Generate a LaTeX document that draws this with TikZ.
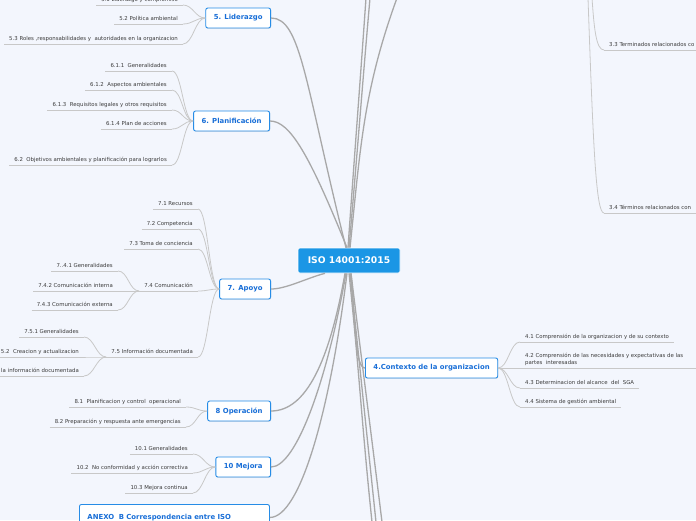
\documentclass[tikz,border=0pt]{standalone}
\usepackage{fontspec}
\newfontfamily\mapfont{DejaVu Sans}
\usetikzlibrary{shadows}
\definecolor{bgcol}{RGB}{243,246,253}
\definecolor{rootblue}{RGB}{27,150,229}
\definecolor{nodeblue}{RGB}{38,140,230}
\definecolor{textblue}{RGB}{24,110,215}
\definecolor{leafgray}{RGB}{60,60,60}
\definecolor{linegray}{RGB}{168,168,168}
\definecolor{thingray}{RGB}{200,200,200}
\newcommand\leaffont{\mapfont\fontsize{5.4}{7}\selectfont}
\tikzset{
    root/.style = {rectangle, rounded corners=2pt, draw=white, line width=0.6pt, fill=rootblue, text=white, minimum width=102pt, minimum height=25pt, font=\mapfont\bfseries\fontsize{9.2}{11}\selectfont},
    topic/.style = {rectangle, rounded corners=2pt, draw=nodeblue, line width=0.9pt, fill=white, text=textblue, minimum height=20pt, inner xsep=8pt, font=\mapfont\bfseries\fontsize{6.9}{8}\selectfont, drop shadow={shadow xshift=0.5pt,shadow yshift=-0.7pt,opacity=0.25}},
    leaf/.style = {inner xsep=5pt, inner ysep=1.8pt, text=leafgray, font=\leaffont, text height=4pt, text depth=1.3pt},
    leafl/.style = {leaf, anchor=south east, append after command={(\tikzlastnode.south west) edge[uline] (\tikzlastnode.south east)}},
    leafr/.style = {leaf, anchor=south west, append after command={(\tikzlastnode.south west) edge[uline] (\tikzlastnode.south east)}},
    leafm/.style = {inner xsep=5pt, inner ysep=1.8pt, text=leafgray, font=\leaffont, anchor=south west, align=left},
    uline/.style = {thingray, line width=0.8pt},
    edgem/.style = {linegray, line width=1.3pt},
    edgel/.style = {thingray, line width=0.8pt, out=0, in=180, out distance=10pt, in distance=10pt},
}
\begin{document}
\begin{tikzpicture}[x=1pt,y=1pt]
\useasboundingbox (0,0) rectangle (696,-520);
\clip (0,0) rectangle (696,-520);
\fill[bgcol] (0,0) rectangle (696,-520);
%
\node[root] (iso) at (349,-260.5) {ISO 14001:2015};
\node[topic, anchor=east] (lid) at (271,-18) {5. Liderazgo};
\node[topic, anchor=east] (pla) at (270,-121) {6. Planificación};
\node[topic, anchor=east] (apo) at (271,-289) {7. Apoyo};
\node[topic, anchor=east] (ope) at (271,-411) {8 Operación};
\node[topic, anchor=east] (mej) at (271,-467) {10 Mejora};
\node[topic, anchor=north west, text width=174pt, align=left, minimum height=26pt] (anx) at (79,-504) {ANEXO\ \ B Correspondencia entre ISO};
\node[topic, anchor=west] (ctx) at (365,-368) {4.Contexto de la organizacion};
%
\node[leafl] (l51) at (183,-5) {5.1 Liderazgo y compromiso};
\node[leafl] (l52) at (183,-24) {5.2 Política ambiental};
\node[leafl] (l53) at (183,-44) {5.3 Roles ,responsabilidades y\ \ autoridades en la organizacion};
%
\node[leafl] (l611) at (172,-71) {6.1.1\ \ Generalidades};
\node[leafl] (l612) at (172,-90) {6.1.2\ \ Aspectos ambientales};
\node[leafl] (l613) at (172,-110) {6.1.3\ \ Requisitos legales y otros requisitos};
\node[leafl] (l614) at (172,-129) {6.1.4 Plan de acciones};
\node[leafl] (l62) at (172,-165) {6.2\ \ Objetivos ambientales y planificación para lograrlos};
%
\node[leafl] (l71) at (198,-209) {7.1 Recursos};
\node[leafl] (l72) at (198,-229) {7.2 Competencia};
\node[leafl] (l73) at (198,-249) {7.3 Toma de conciencia};
\node[leafl] (l74) at (198,-291) {7.4 Comunicación};
\node[leafl] (l75) at (198,-357) {7.5 Información documentada};
\node[leafl] (l741) at (118,-271) {7..4.1 Generalidades};
\node[leafl] (l742) at (118,-291) {7.4.2 Comunicación interna};
\node[leafl] (l743) at (118,-310) {7.4.3 Comunicación externa};
\node[leafl] (l751) at (84,-337) {7.5.1 Generalidades};
\node[leafl] (l752) at (84,-357) {5.2\ \ Creacion y actualizacion};
\node[leafl] (l753) at (84,-376) {la información documentada};
%
\node[leafl] (l81) at (186,-407) {8.1\ \ Planificacion y control\ \ operacional};
\node[leafl] (l82) at (186,-427) {8.2 Preparación y respuesta ante emergencias};
%
\node[leafl] (l101) at (193,-454) {10.1 Generalidades};
\node[leafl] (l102) at (193,-473) {10.2\ \ No conformidad y acción correctiva};
\node[leafl] (l103) at (193,-493) {10.3 Mejora continua};
%
\node[leafr] (l41) at (520,-342) {4.1 Comprensión de la organizacion y de su contexto};
\node[leafm] (l42) at (520,-368) {4.2 Comprensión de las necesidades y expectativas de las\\partes\ \ interesadas};
\node[leafr] (l43) at (520,-388) {4.3 Determinacion del alcance\ \ del\ \ SGA};
\node[leafr] (l44) at (520,-407) {4.4 Sistema de gestión ambiental};
%
\node[leaf, anchor=south west] (l33) at (604,-50) {3.3 Terminados relacionados co};
\node[leaf, anchor=south west] (l34) at (604,-213) {3.4 Términos relacionados con};
%
\coordinate (t1) at (366,2);
\coordinate (t2) at (370,2);
\coordinate (t3) at (397,2);
\coordinate (b1) at (372,-522);
\coordinate (b2) at (376,-522);
\coordinate (b3) at (382,-522);
\coordinate (t33) at (592,2);
\coordinate (t34) at (588,2);
\coordinate (rim) at (700,0);
%
\draw[edgem] ([xshift=-3pt]iso.north) to[out=104,in=0,out distance=170pt,in distance=30pt] (lid.east);
\draw[edgem] ([xshift=-2pt]iso.north) to[out=112,in=0,out distance=100pt,in distance=20pt] (pla.east);
\draw[edgem] ([xshift=-1pt]iso.north) to[out=86,in=-94] (t1);
\draw[edgem] (iso.north) to[out=85,in=-95] (t2);
\draw[edgem] ([xshift=1pt]iso.north) to[out=84,in=-110] (t3);
\draw[edgem] ([xshift=-24pt]iso.south) to[out=-165,in=0,out distance=20pt,in distance=15pt] (apo.east);
\draw[edgem] ([xshift=-4pt]iso.south) to[out=-100,in=0,out distance=90pt,in distance=35pt] (ope.east);
\draw[edgem] ([xshift=-3pt]iso.south) to[out=-100,in=0,out distance=110pt,in distance=25pt] (mej.east);
\draw[edgem] ([xshift=-2pt]iso.south) to[out=-97,in=0,out distance=140pt,in distance=30pt] (anx.east);
\draw[edgem] ([xshift=2pt]iso.south) to[out=-85,in=180,out distance=50pt,in distance=10pt] (ctx.west);
\draw[edgem] (iso.south) to[out=-84,in=96] (b1);
\draw[edgem] ([xshift=1pt]iso.south) to[out=-84,in=96] (b2);
\draw[edgem] ([xshift=2pt]iso.south) to[out=-83,in=97] (b3);
%
\draw[edgel] (l51.south east) to (lid.west);
\draw[edgel] (l52.south east) to (lid.west);
\draw[edgel] (l53.south east) to (lid.west);
\draw[edgel] (l611.south east) to (pla.west);
\draw[edgel] (l612.south east) to (pla.west);
\draw[edgel] (l613.south east) to (pla.west);
\draw[edgel] (l614.south east) to (pla.west);
\draw[edgel] (l62.south east) to (pla.west);
\draw[edgel] (l71.south east) to (apo.west);
\draw[edgel] (l72.south east) to (apo.west);
\draw[edgel] (l73.south east) to (apo.west);
\draw[edgel] (l74.south east) to (apo.west);
\draw[edgel] (l75.south east) to (apo.west);
\draw[edgel] (l741.south east) to (l74.south west);
\draw[edgel] (l742.south east) to (l74.south west);
\draw[edgel] (l743.south east) to (l74.south west);
\draw[edgel] (l751.south east) to (l75.south west);
\draw[edgel] (l752.south east) to (l75.south west);
\draw[edgel] (l753.south east) to (l75.south west);
\draw[edgel] (l81.south east) to (ope.west);
\draw[edgel] (l82.south east) to (ope.west);
\draw[edgel] (l101.south east) to (mej.west);
\draw[edgel] (l102.south east) to (mej.west);
\draw[edgel] (l103.south east) to (mej.west);
\draw[edgel] (ctx.east) to (l41.south west);
\draw[edgel] (ctx.east) to (l42.south west);
\draw[edgel] (ctx.east) to (l43.south west);
\draw[edgel] (ctx.east) to (l44.south west);
\draw[edgel] (t33) to[out=-86,in=180,out distance=30pt,in distance=8pt] (l33.south west);
\draw[edgel] (t34) to[out=-88,in=180,out distance=150pt,in distance=8pt] (l34.south west);
\draw[uline] (l42.south west) -- (l42.south west -| rim);
\draw[uline] (l33.south west) -- (l33.south west -| rim);
\draw[uline] (l34.south west) -- (l34.south west -| rim);

\end{tikzpicture}
\end{document}
